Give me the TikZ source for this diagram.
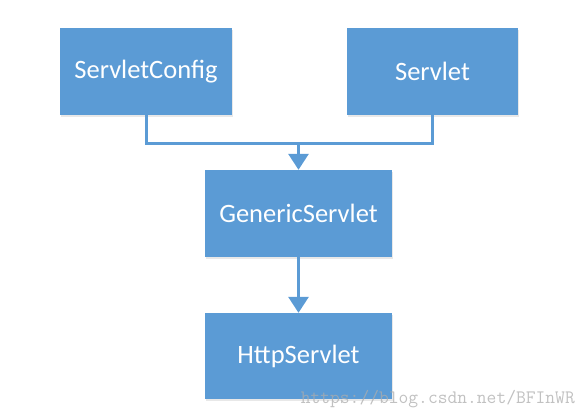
\documentclass[tikz,border=0pt]{standalone}
\usepackage{fontspec}
\setmainfont{Carlito}
\usetikzlibrary{arrows.meta,shadows}
\definecolor{boxblue}{RGB}{91,155,213}
\definecolor{wmgray}{RGB}{172,172,172}
\tikzset{
  cls/.style={draw=none, fill=boxblue, text=white, font=\fontsize{26.5}{30}\selectfont,
    minimum height=87pt, inner sep=0pt, anchor=center,
    drop shadow={opacity=0.18, shadow xshift=1pt, shadow yshift=-2pt}},
  conn/.style={draw=boxblue, line width=3pt},
  arr/.style={conn, -{Triangle[width=20pt,length=16pt]}}
}
\begin{document}
\begin{tikzpicture}[x=1pt,y=-1pt]
\useasboundingbox (0,0) rectangle (587,416);
\node[cls, minimum width=172pt] (sc) at (146,71.5) {ServletConfig};
\node[cls, minimum width=171pt] (sv) at (432.5,71.5) {Servlet};
\node[cls, minimum width=187pt] (gs) at (298.5,213.5) {GenericServlet};
\node[cls, minimum width=187pt, minimum height=86pt] (hs) at (298.5,356) {HttpServlet};
\coordinate (j) at (298.5,143);
\draw[conn] (sc.south) |- (j);
\draw[conn] (sv.south) |- (j);
\draw[arr] (j) -- (gs.north);
\draw[arr] (gs.south) -- (hs.north);
\node[anchor=base east, text=wmgray, text opacity=0.75, font=\ttfamily\fontsize{19}{21}\selectfont, inner sep=0pt] (wm) at (575,403) {https://blog.csdn.net/BFInWR};
\end{tikzpicture}
\end{document}
